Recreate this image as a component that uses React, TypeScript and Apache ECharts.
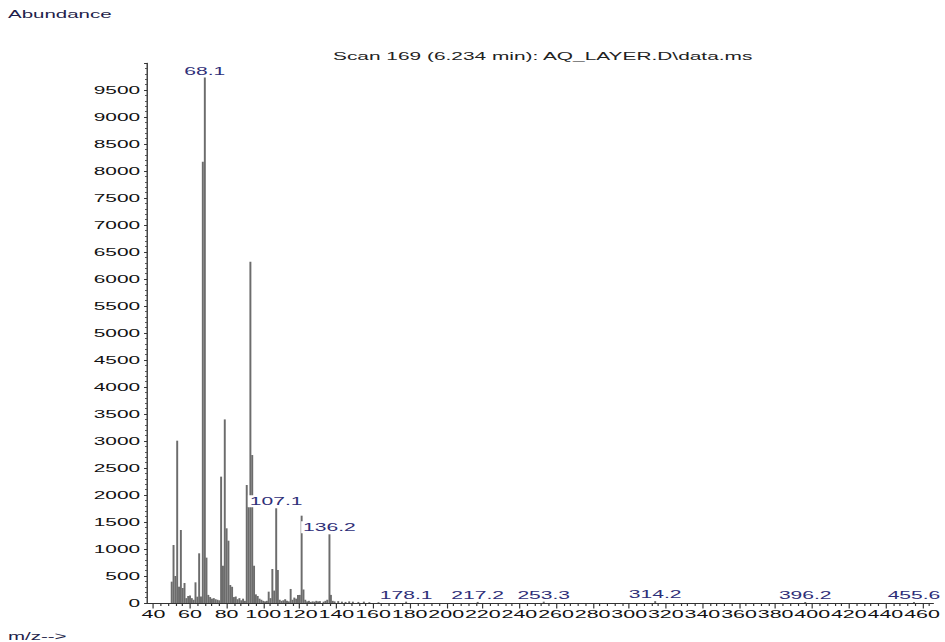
import { useEffect, useRef } from "react";
import * as echarts from "echarts";

// ---- data ----
const mzValues = [
  50, 51, 52, 53, 54, 55, 56, 57, 58, 59, 60, 61, 62, 63, 64, 65, 66, 67, 68.1, 69,
  70, 71, 72, 73, 74, 75, 76, 77, 78, 79, 80, 81, 82, 83, 84, 85, 86, 87, 88, 89,
  90, 91, 92, 93, 94, 95, 96, 97, 98, 99, 100, 101, 102, 103, 104, 105, 106, 107.1, 108, 109,
  110, 111, 112, 113, 114, 115, 116, 117, 118, 119, 120, 121, 122, 123, 124, 125, 126, 127, 128, 129,
  130, 131, 133, 134, 135, 136.2, 137, 138, 139, 141, 143, 145, 147, 149, 152, 155, 158, 163,
  178.1, 217.2, 253.3, 314.2, 396.2, 455.6,
];
const abundances = [
  395, 1074, 500, 3006, 302, 1352, 278, 370, 90, 130, 140, 90, 60, 383, 117, 920, 120, 8170, 9730, 840,
  150, 110, 80, 90, 70, 60, 50, 2340, 690, 3400, 1383, 1154, 333, 300, 110, 120, 70, 90, 50, 80,
  40, 2185, 1780, 6320, 2740, 690, 160, 130, 80, 60, 40, 30, 40, 210, 90, 630, 230, 1754, 611, 60,
  40, 50, 70, 40, 30, 260, 60, 100, 80, 150, 150, 1617, 250, 60, 30, 40, 20, 30, 25, 40,
  30, 35, 25, 40, 60, 1272, 150, 40, 30, 35, 25, 20, 30, 25, 20, 25, 15, 15,
  25, 20, 25, 35, 20, 20,
];
const labeledPeaks = [68.1, 107.1, 136.2, 178.1, 217.2, 253.3, 314.2, 396.2, 455.6];
const xMajorTicks = [40, 60, 80, 100, 120, 140, 160, 180, 200, 220, 240, 260, 280, 300, 320, 340, 360, 380, 400, 420, 440, 460];
const xMinorTicks: number[] = [];
for (let t = 40; t <= 464; t += 4) if (t % 20 !== 0) xMinorTicks.push(t);

const titleText = "Scan 169 (6.234 min): AQ_LAYER.D\\data.ms";
const yName = "Abundance";
const xName = "m/z-->";

// ---- layout ----
const S = 1.95; // horizontal stretch of the reference rendering
const W = 945;
const H = 642;
const FONT = "'Liberation Sans', Arial, sans-serif";
const FS = 10.5;

export default function App() {
  const ref = useRef<HTMLDivElement>(null);
  useEffect(() => {
    const chart = echarts.init(ref.current!, null, { renderer: "svg" });
    const data = mzValues.map((m, i) => ({
      value: [m, abundances[i]],
      label: { show: labeledPeaks.includes(m) },
    }));
    chart.setOption({
      animation: false,
      backgroundColor: "#ffffff",
      textStyle: { fontFamily: FONT },
      title: [
        {
          text: yName,
          left: 8 / S,
          top: 9,
          padding: 0,
          textStyle: { fontSize: FS, fontWeight: "normal", color: "#1e1e4a", fontFamily: FONT },
        },
        {
          text: titleText,
          left: 333 / S,
          top: 51,
          padding: 0,
          textStyle: { fontSize: 10.7, fontWeight: "normal", color: "#222222", fontFamily: FONT },
        },
        {
          text: xName,
          left: 8 / S,
          top: 631,
          padding: 0,
          textStyle: { fontSize: FS, fontWeight: "normal", color: "#1e1e4a", fontFamily: FONT },
        },
      ],
      grid: { left: 147 / S, right: 8 / S, top: 63, bottom: 39, containLabel: false },
      xAxis: [
        {
          type: "value",
          position: "bottom",
          min: 36.5,
          max: 466,
          splitLine: { show: false },
          axisLine: { show: true, lineStyle: { color: "#333333", width: 1.2 } },
          axisTick: {
            show: true,
            customValues: xMajorTicks,
            length: 5.5,
            lineStyle: { color: "#333333", width: 0.6 },
          },
          axisLabel: {
            customValues: xMajorTicks,
            margin: 6,
            fontSize: 11,
            color: "#111111",
            fontFamily: FONT,
          },
        },
        {
          type: "value",
          position: "bottom",
          min: 36.5,
          max: 466,
          splitLine: { show: false },
          axisLine: { show: false },
          axisLabel: { show: false },
          axisTick: {
            show: true,
            customValues: xMinorTicks,
            length: 3,
            lineStyle: { color: "#333333", width: 0.6 },
          },
        },
      ],
      yAxis: {
        type: "value",
        min: 0,
        max: 10000,
        interval: 500,
        splitLine: { show: false },
        axisLine: { show: true, lineStyle: { color: "#333333", width: 0.7 } },
        axisTick: { show: true, length: 1.5, lineStyle: { color: "#333333", width: 1 } },
        minorTick: { show: true, splitNumber: 5, length: 1, lineStyle: { color: "#555555", width: 1 } },
        axisLabel: {
          margin: 3.5,
          fontSize: 10.7,
          color: "#111111",
          fontFamily: FONT,
          formatter: (v: number) => (v >= 10000 ? "" : String(v)),
        },
      },
      series: [
        {
          type: "bar",
          xAxisIndex: 0,
          yAxisIndex: 0,
          barWidth: 1,
          itemStyle: { color: "#6c6c6c" },
          label: {
            show: false,
            position: "top",
            distance: 1,
            fontSize: 10.8,
            color: "#2e2e78",
            fontFamily: FONT,
            backgroundColor: "#ffffff",
            padding: [1, 1, 0, 1],
            formatter: (p: any) => Number(p.value[0]).toFixed(1),
          },
          data,
        },
      ],
    });
    return () => chart.dispose();
  }, []);
  return (
    <div
      ref={ref}
      style={{
        position: "fixed",
        left: 0,
        top: 0,
        width: W / S,
        height: H,
        transform: `scaleX(${S})`,
        transformOrigin: "0 0",
        background: "#ffffff",
      }}
    />
  );
}
